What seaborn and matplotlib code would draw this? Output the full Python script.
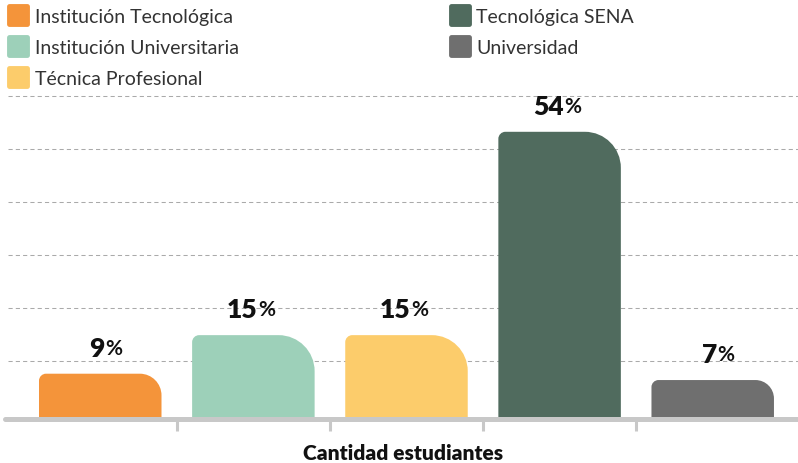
import numpy as np
import pandas as pd
import seaborn as sns
import matplotlib.pyplot as plt
from matplotlib.path import Path
from matplotlib.patches import PathPatch
from matplotlib.lines import Line2D
from matplotlib.markers import MarkerStyle


CATEGORIAS = ['Institución Tecnológica', 'Institución Universitaria',
              'Técnica Profesional', 'Tecnológica SENA', 'Universidad']
PORCENTAJES = [9, 15, 15, 54, 7]
# bar heights as drawn in the picture (labels above are rounded values)
ALTURAS = [8.2, 15.5, 15.5, 54.0, 7.0]
COLORES = ['#F4943A', '#9DD0B9', '#FCCC6B', '#506B5E', '#6F6F6F']
GRID_Y = [10.6, 20.6, 30.7, 40.7, 50.8, 60.8]


def rounded_bar(x0, x1, h, rxl, ryl, rxr, ryr):
    '''
    Builds a bar path with a small top-left and a large top-right corner.
    '''
    k = 0.5523
    verts = [(x0, 0), (x0, h - ryl),
             (x0, h - ryl + k * ryl), (x0 + rxl - k * rxl, h), (x0 + rxl, h),
             (x1 - rxr, h),
             (x1 - rxr + k * rxr, h), (x1, h - ryr + k * ryr), (x1, h - ryr),
             (x1, 0), (x0, 0)]
    codes = [Path.MOVETO, Path.LINETO,
             Path.CURVE4, Path.CURVE4, Path.CURVE4,
             Path.LINETO,
             Path.CURVE4, Path.CURVE4, Path.CURVE4,
             Path.LINETO, Path.CLOSEPOLY]
    return Path(verts, codes)


def main():
    sns.set_style('white')
    plt.rcParams['font.family'] = ['Lato', 'DejaVu Sans']

    df = pd.DataFrame({'categoria': CATEGORIAS, 'valor': ALTURAS})

    fig = plt.figure(figsize=(7.98, 4.64), dpi=100)
    ax = fig.add_axes([0.01003, 0.0991, 0.98997, 0.7069])
    sns.barplot(data=df, x='categoria', y='valor', hue='categoria',
                palette=COLORES, saturation=1, width=0.8, legend=False,
                ax=ax)
    ax.set_xlim(-0.6025, 4.557)
    ax.set_ylim(0, 62.1)

    # pixel -> data scale
    p0 = ax.transData.transform((0, 0))
    p1 = ax.transData.transform((1, 1))
    sx = p1[0] - p0[0]
    sy = p1[1] - p0[1]

    bars = list(ax.patches)
    for bar, color in zip(bars, COLORES):
        x0 = bar.get_x()
        w = bar.get_width()
        h = bar.get_height()
        hpx = h * sy
        rr = min(36, hpx * 0.5)
        rl = 7
        path = rounded_bar(x0, x0 + w, h, rl / sx, rl / sy, rr / sx, rr / sy)
        ax.add_patch(PathPatch(path, facecolor=color, edgecolor='none',
                               zorder=2))
        bar.remove()

    for i, (h, p) in enumerate(zip(ALTURAS, PORCENTAJES)):
        ax.annotate(str(p), (i, h), xytext=(3, 10), textcoords='offset points',
                    ha='right', va='bottom', fontsize=19, fontweight='heavy',
                    color='#111111')
        ax.annotate('%', (i, h), xytext=(3.5, 11.5),
                    textcoords='offset points', ha='left', va='bottom',
                    fontsize=15, fontweight='bold', color='#111111')

    # grid and base line
    ax.set_yticks(GRID_Y)
    ax.set_yticklabels([])
    ax.yaxis.grid(True, linestyle=(0, (4, 3)), color='#aaaaaa', linewidth=0.75)
    ax.xaxis.grid(False)
    ax.set_axisbelow(True)
    ax.tick_params(axis='y', length=0)
    sns.despine(ax=ax, left=True, bottom=True)
    ax.plot([-0.62, 4.7], [-0.45, -0.45], color='#c8c8c8', linewidth=3.6,
            solid_capstyle='round', clip_on=False, zorder=3)

    ax.set_xticks([0, 1, 2, 3, 4])
    ax.set_xticklabels([])
    ax.set_xticks([0.5, 1.5, 2.5, 3.5], minor=True)
    ax.tick_params(axis='x', which='major', length=0, bottom=False)
    ax.tick_params(axis='x', which='minor', length=10, width=2.2,
                   color='#c8c8c8', direction='out', bottom=True)
    ax.set_xlabel('Cantidad estudiantes', fontsize=15, fontweight='heavy',
                  color='#111111', labelpad=5)
    ax.set_ylabel('')

    handles = [Line2D([], [], linestyle='',
                      marker=MarkerStyle('s', joinstyle='round'),
                      markersize=12.5, markeredgewidth=3.5,
                      markerfacecolor=c, markeredgecolor=c)
               for c in COLORES]
    fig.legend(handles, CATEGORIAS, loc='upper left',
               bbox_to_anchor=(0.0, 0.998), ncol=2, frameon=False,
               fontsize=14, labelcolor='#333333',
               borderpad=0.25, handlelength=1.1, handletextpad=0.3,
               labelspacing=0.72, columnspacing=10.8, borderaxespad=0.15)

    fig.savefig('out.png', dpi=100)


if __name__ == '__main__':
    main()
